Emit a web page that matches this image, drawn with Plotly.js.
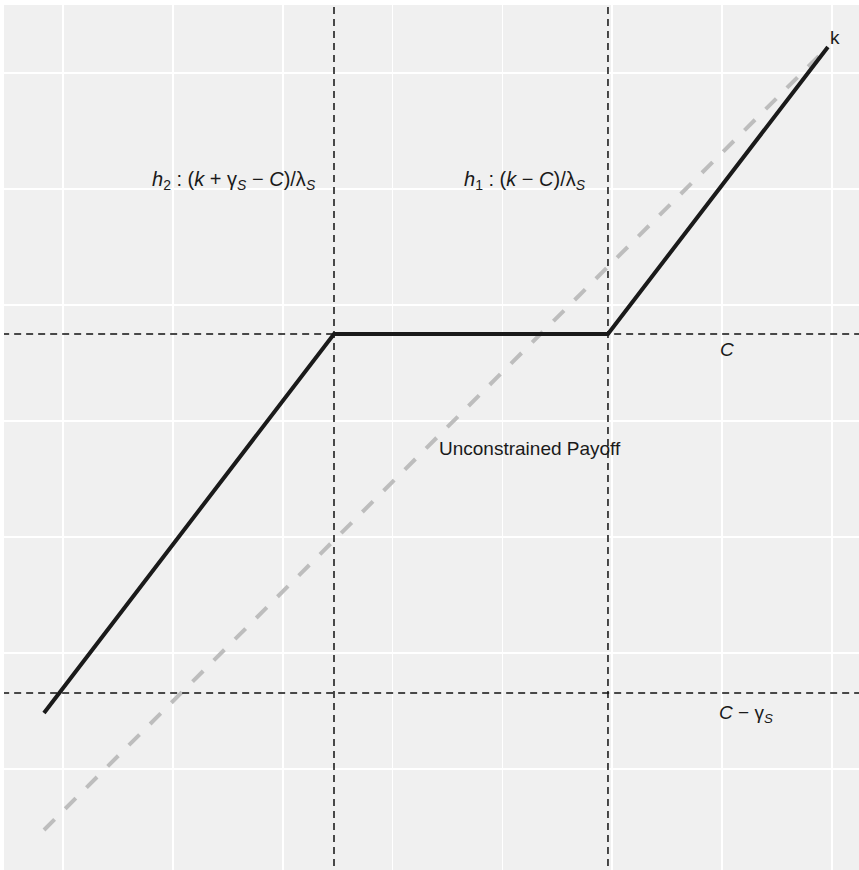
<!DOCTYPE html>
<html>
<head>
<meta charset="utf-8">
<script src="https://cdn.plot.ly/plotly-3.0.1.min.js"></script>
<style>html,body{margin:0;padding:0;background:#fff;}</style>
</head>
<body>
<div id="chart" style="width:859px;height:870px;"></div>
<script>
// Constrained payoff (solid black)
const solidX = [-0.173, 2.467, 4.961, 6.963];
const solidY = [0.483, 3.75, 3.75, 6.224];
// Unconstrained payoff (gray dashed)
const unconX = [-0.173, 6.963];
const unconY = [-0.526, 6.224];
// Reference lines
const vLineX = [2.467, 4.961];
const hLineY = [3.75, 0.655];
// Labels
const labelText = [
  "<i>h</i><sub>2</sub> : (<i>k</i> + γ<sub><i>S</i></sub> − <i>C</i>)/λ<sub><i>S</i></sub>",
  "<i>h</i><sub>1</sub> : (<i>k</i> − <i>C</i>)/λ<sub><i>S</i></sub>",
  "<i>C</i>",
  "<i>C</i> − γ<sub><i>S</i></sub>",
  "Unconstrained Payoff",
  "k"
];
const labelX = [1.557, 4.21, 6.044, 6.217, 4.255, 7.027];
const labelY = [5.069, 5.069, 3.612, 0.474, 2.767, 6.302];
const labelSize = [20, 20, 19, 19, 19, 19];

const xRange = [-0.537, 7.246];
const yRange = [-0.871, 6.586];

const traces = [];
traces.push({x: unconX, y: unconY, mode: 'lines', type: 'scatter',
  line: {color: '#bdbdbd', width: 4, dash: '15px,15px'}, hoverinfo: 'skip'});
vLineX.forEach(v => traces.push({x: [v, v], y: [yRange[0] - 1, yRange[1] + 1], mode: 'lines', type: 'scatter',
  line: {color: '#111111', width: 1.5, dash: '7px,5px'}, hoverinfo: 'skip'}));
hLineY.forEach(h => traces.push({x: [xRange[0] - 1, xRange[1] + 1], y: [h, h], mode: 'lines', type: 'scatter',
  line: {color: '#111111', width: 1.5, dash: '7px,5px'}, hoverinfo: 'skip'}));
traces.push({x: solidX, y: solidY, mode: 'lines', type: 'scatter',
  line: {color: '#1a1a1a', width: 4}, hoverinfo: 'skip'});

const annotations = labelText.map((t, i) => ({
  x: labelX[i], y: labelY[i], xref: 'x', yref: 'y', text: t, showarrow: false,
  xanchor: 'center', yanchor: 'middle',
  font: {family: 'Liberation Sans, Arial, sans-serif', size: labelSize[i], color: '#1a1a1a'}
}));

const axisCommon = {showgrid: true, gridcolor: '#ffffff', gridwidth: 1.6, zeroline: false,
  showticklabels: false, ticks: '', showline: false, dtick: 1, tick0: 0, fixedrange: true};

const layout = {
  width: 859, height: 870,
  margin: {l: 4, r: 0, t: 5, b: 0, pad: 0},
  paper_bgcolor: '#ffffff', plot_bgcolor: '#f0f0f0',
  showlegend: false,
  xaxis: Object.assign({}, axisCommon, {range: xRange}),
  yaxis: Object.assign({}, axisCommon, {range: yRange}),
  annotations: annotations
};

Plotly.newPlot('chart', traces, layout, {staticPlot: true, displayModeBar: false});
</script>
</body>
</html>
